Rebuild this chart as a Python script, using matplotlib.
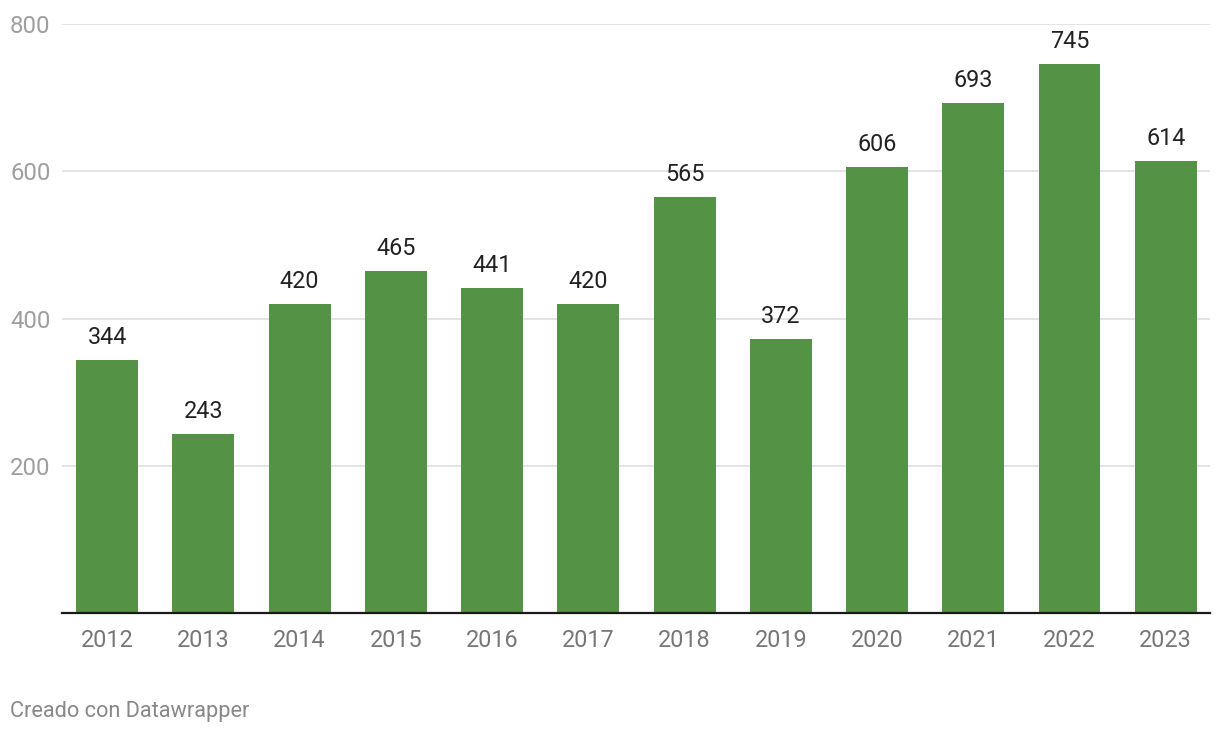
import matplotlib
matplotlib.use("Agg")
import matplotlib.pyplot as plt

plt.rcParams['font.family'] = ['Roboto', 'DejaVu Sans']

years = ["2012", "2013", "2014", "2015", "2016", "2017",
         "2018", "2019", "2020", "2021", "2022", "2023"]
values = [344, 243, 420, 465, 441, 420, 565, 372, 606, 693, 745, 614]
y_ticks = [200, 400, 600, 800]

bar_color = "#549345"

fig = plt.figure(figsize=(12.2, 7.36), dpi=100)
ax = fig.add_axes([62 / 1220, 123 / 736, 1148 / 1220, 589 / 736])

x = list(range(len(years)))
ax.bar(x, values, width=0.644, color=bar_color, zorder=2)

for xi, v in zip(x, values):
    ax.annotate(str(v), (xi, v), xytext=(0, 8), textcoords="offset points",
                ha="center", va="bottom", fontsize=16.8, color="#222222")

ax.set_xlim(-0.47, 11.46)
ax.set_ylim(0, 800)

ax.set_yticks(y_ticks)
ax.set_yticklabels([str(t) for t in y_ticks])
ax.grid(axis="y", color="#e3e3e3", linewidth=1.4, zorder=0)
ax.tick_params(axis="y", length=0, pad=37.4, labelsize=17.2, labelcolor="#9e9e9e")
for lbl in ax.get_yticklabels():
    lbl.set_horizontalalignment("left")

ax.set_xticks(x)
ax.set_xticklabels(years)
ax.tick_params(axis="x", length=0, pad=11.5, labelsize=16.8, labelcolor="#777777")

for side in ["left", "right", "top"]:
    ax.spines[side].set_visible(False)
ax.spines["bottom"].set_color("#1a1a1a")
ax.spines["bottom"].set_linewidth(1.6)
ax.spines["bottom"].set_zorder(3)

fig.text(10 / 1220, 1 - 712 / 736, "Creado con Datawrapper", ha="left", va="center",
         fontsize=15.7, color="#888888")

fig.savefig("out.png", dpi=100)
